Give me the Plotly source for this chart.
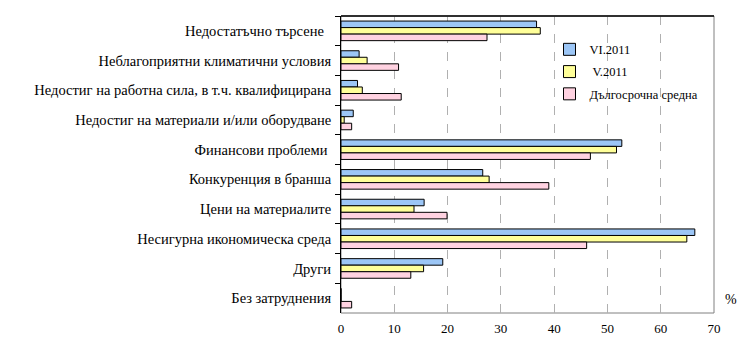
import plotly.graph_objects as go

categories = [
    "Недостатъчно търсене\u00a0\u00a0",
    "Неблагоприятни климатични условия",
    "Недостиг на работна сила, в т.ч. квалифицирана",
    "Недостиг на материали и/или оборудване",
    "Финансови проблеми\u00a0",
    "Конкуренция в бранша",
    "Цени на материалите",
    "Несигурна икономическа среда",
    "Други",
    "Без затруднения",
]
series_names = ["VI.2011", " V.2011", "Дългосрочна средна"]
vi_2011 = [36.7, 3.4, 3.1, 2.3, 52.7, 26.6, 15.6, 66.4, 19.1, 0.0]
v_2011 = [37.4, 4.9, 4.0, 0.6, 51.7, 27.8, 13.7, 64.9, 15.5, 0.0]
long_term = [27.4, 10.8, 11.3, 2.0, 46.8, 39.0, 19.9, 46.1, 13.1, 2.0]
x_ticks = [0, 10, 20, 30, 40, 50, 60, 70]

colors = ["#9cc6f6", "#ffff99", "#ffd2e1"]
series = [vi_2011, v_2011, long_term]

fig = go.Figure()
for i, (name, vals, col) in enumerate(zip(series_names, series, colors)):
    fig.add_trace(go.Bar(
        y=categories, x=vals, name=name, orientation="h",
        marker=dict(color=col, line=dict(color="#000000", width=1)),
        legendgroup=f"g{i}",
    ))

font_family = "Liberation Serif, DejaVu Serif, serif"
fig.update_layout(
    width=745, height=338,
    margin=dict(l=341, r=31, t=16, b=25, autoexpand=False),
    paper_bgcolor="white", plot_bgcolor="white",
    barmode="group", bargap=0.34, bargroupgap=0,
    font=dict(family=font_family, size=12, color="#000000"),
    showlegend=True,
    legend=dict(
        x=0.559, y=0.937, xanchor="left", yanchor="top",
        bgcolor="rgba(0,0,0,0)", borderwidth=0,
        font=dict(family=font_family, size=12.5, color="#000000"),
        traceorder="grouped", tracegroupgap=3,
    ),
    xaxis=dict(
        range=[0, 70], tickvals=x_ticks, ticktext=[str(v) for v in x_ticks],
        showgrid=True, gridcolor="#b0b0b0", griddash="dash", gridwidth=1,
        zeroline=False, showline=False, ticks="", ticklabelstandoff=6,
        automargin=False,
        tickfont=dict(family=font_family, size=13),
    ),
    yaxis=dict(
        categoryorder="array", categoryarray=categories, autorange="reversed",
        showline=True, linecolor="#000000", linewidth=1,
        ticks="outside", tickson="boundaries", ticklen=5, tickcolor="#000000",
        ticklabelstandoff=6, showgrid=False, zeroline=False, automargin=False,
        tickfont=dict(family=font_family, size=14.5),
    ),
    shapes=[
        dict(type="rect", xref="paper", yref="paper", x0=0, x1=1, y0=0, y1=1,
             line=dict(color="#808080", width=1), layer="below"),
        dict(type="line", xref="paper", yref="paper", x0=0, x1=1, y0=1, y1=1,
             line=dict(color="#000000", width=1.5), layer="above"),
    ],
    annotations=[
        dict(text="%", xref="paper", yref="paper", x=1.045, y=0.045,
             xanchor="center", yanchor="middle", showarrow=False,
             font=dict(family=font_family, size=14)),
    ],
)

fig.write_html("out.html")
